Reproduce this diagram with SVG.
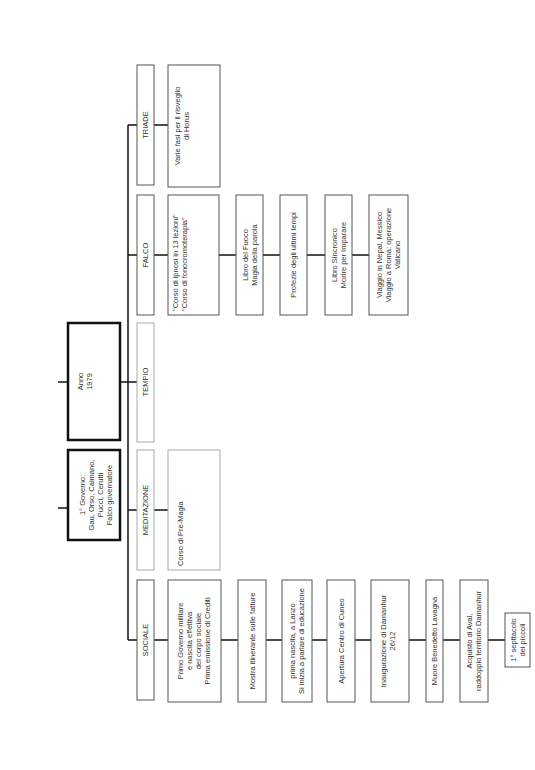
<svg xmlns="http://www.w3.org/2000/svg" width="535" height="770" viewBox="0 0 535 770">
<style>
.bg{fill:#ffffff}
.box{fill:#ffffff;stroke:#555;stroke-width:1}
.lbox{fill:#ffffff;stroke:#aaa;stroke-width:1}
.tbox{fill:#ffffff;stroke:#111;stroke-width:2.5}
.conn{stroke:#111;stroke-width:1.5;fill:none}
text{font-family:"Liberation Sans",Arial,sans-serif;font-size:7.5px;fill:#333;text-anchor:middle}
.st{text-anchor:start}
</style>
<rect class="bg" x="0" y="0" width="535" height="770"/>
<g id="connectors">
<path class="conn" d="M58 382H68M58 508H68"/>
<path class="conn" d="M120 382H128M128 125V640"/>
<path class="conn" d="M128 125H137M128 255H137M128 382H137M128 510H137M128 640H137"/>
<path class="conn" d="M154 125H168M154 255H168M154 510H168M154 640H168"/>
<path class="conn" d="M219 255H236M263 255H280M307 255H325M352 255H369"/>
<path class="conn" d="M221 640H238M266 640H282M312 640H327M355 640H371M409 640H426M443 640H460M488 640H505"/>
</g>
<g id="anno">
<rect class="tbox" x="68" y="323" width="52" height="117"/>
<g transform="translate(85,381.5) rotate(-90)"><text x="0" y="-2">Anno</text><text x="0" y="7">1979</text></g>
</g>
<g id="governo">
<rect class="tbox" x="68" y="450" width="52" height="90"/>
<g transform="translate(96,495) rotate(-90)"><text x="0" y="-11">1° Governo:</text><text x="0" y="-2">Gau, Orso, Caimano,</text><text x="0" y="7">Pucci, Cerutti</text><text x="0" y="16">Falco governatore</text></g>
</g>
<g id="triade">
<rect class="box" x="137" y="65" width="17" height="120"/>
<g transform="translate(145.5,125) rotate(-90)"><text x="0" y="2.6">TRIADE</text></g>
</g>
<g id="falco">
<rect class="box" x="137" y="195" width="17" height="120"/>
<g transform="translate(145.5,255) rotate(-90)"><text x="0" y="2.6">FALCO</text></g>
</g>
<g id="tempio">
<rect class="lbox" x="137" y="323" width="17" height="119"/>
<g transform="translate(145.5,382) rotate(-90)"><text x="0" y="2.6">TEMPIO</text></g>
</g>
<g id="meditazione">
<rect class="lbox" x="137" y="450" width="17" height="120"/>
<g transform="translate(145.5,510) rotate(-90)"><text x="0" y="2.6">MEDITAZIONE</text></g>
</g>
<g id="sociale">
<rect class="box" x="137" y="580" width="17" height="120"/>
<g transform="translate(145.5,640) rotate(-90)"><text x="0" y="2.6">SOCIALE</text></g>
</g>
<g id="horus">
<rect class="box" x="168" y="65" width="52" height="122"/>
<g transform="translate(182,126) rotate(-90)"><text x="0" y="-2">Varie fasi per il risveglio</text><text x="0" y="7">di Horus</text></g>
</g>
<g id="ipnosi">
<rect class="box" x="168" y="195" width="51" height="120"/>
<g transform="translate(180,255) rotate(-90)"><text class="st" x="-56" y="-2">"Corso di ipnosi in 13 lezioni"</text><text class="st" x="-56" y="7">"Corso di fonocromoterapia"</text></g>
</g>
<g id="fuoco">
<rect class="box" x="236" y="195" width="27" height="120"/>
<g transform="translate(249.5,255) rotate(-90)"><text x="0" y="-2">Libro del Fuoco</text><text x="0" y="7">Magia della parola</text></g>
</g>
<g id="profezie">
<rect class="box" x="280" y="195" width="27" height="120"/>
<g transform="translate(293.5,255) rotate(-90)"><text x="0" y="2.6">Profezie degli ultimi tempi</text></g>
</g>
<g id="sincronico">
<rect class="box" x="325" y="195" width="27" height="120"/>
<g transform="translate(338.5,255) rotate(-90)"><text x="0" y="-2">Libro Sincronico</text><text x="0" y="7">Morire per Imparare</text></g>
</g>
<g id="viaggio">
<rect class="box" x="369" y="195" width="39" height="120"/>
<g transform="translate(388.5,255) rotate(-90)"><text x="0" y="-6.5">Viaggio in Nepal, Messico</text><text x="0" y="2.5">Viaggio a Roma: operazione</text><text x="0" y="11.5">Vaticano</text></g>
</g>
<g id="premagia">
<rect class="lbox" x="168" y="450" width="52" height="120"/>
<g transform="translate(180,510) rotate(-90)"><text class="st" x="-56" y="2.6">Corso di Pre-Magia</text></g>
</g>
<g id="primo-governo">
<rect class="box" x="168" y="580" width="53" height="122"/>
<g transform="translate(194.5,641) rotate(-90)"><text x="0" y="-12">Primo Governo militare</text><text x="0" y="-3">e nascita effettiva</text><text x="0" y="6">del corpo sociale</text><text x="0" y="15">Prima emissione di Crediti</text></g>
</g>
<g id="mostra">
<rect class="box" x="238" y="580" width="28" height="122"/>
<g transform="translate(252,641) rotate(-90)"><text x="0" y="2.6">Mostra itinerante sulle fatture</text></g>
</g>
<g id="lanzo">
<rect class="box" x="282" y="580" width="30" height="122"/>
<g transform="translate(297,641) rotate(-90)"><text x="0" y="-2">prima nascita, a Lanzo</text><text x="0" y="7">Si inizia a parlare di educazione</text></g>
</g>
<g id="cuneo">
<rect class="box" x="327" y="580" width="28" height="122"/>
<g transform="translate(341,641) rotate(-90)"><text x="0" y="2.6">Apertura Centro di Cuneo</text></g>
</g>
<g id="inaugurazione">
<rect class="box" x="371" y="580" width="38" height="122"/>
<g transform="translate(390,641) rotate(-90)"><text x="0" y="-4">Inaugurazione di Damanhur</text><text x="0" y="5">26/12</text></g>
</g>
<g id="lavagna">
<rect class="box" x="426" y="580" width="17" height="122"/>
<g transform="translate(434.5,641) rotate(-90)"><text x="0" y="2.6">Muore Benedetto Lavagna</text></g>
</g>
<g id="aval">
<rect class="box" x="460" y="580" width="28" height="122"/>
<g transform="translate(474,641) rotate(-90)"><text x="0" y="-2">Acquisto di Aval,</text><text x="0" y="7">raddoppio territorio Damanhur</text></g>
</g>
<g id="spettacolo">
<rect class="box" x="505" y="613" width="25" height="54"/>
<g transform="translate(517.5,640) rotate(-90)"><text x="0" y="-2">1° septtacolo</text><text x="0" y="7">dei piccoli</text></g>
</g>
</svg>
